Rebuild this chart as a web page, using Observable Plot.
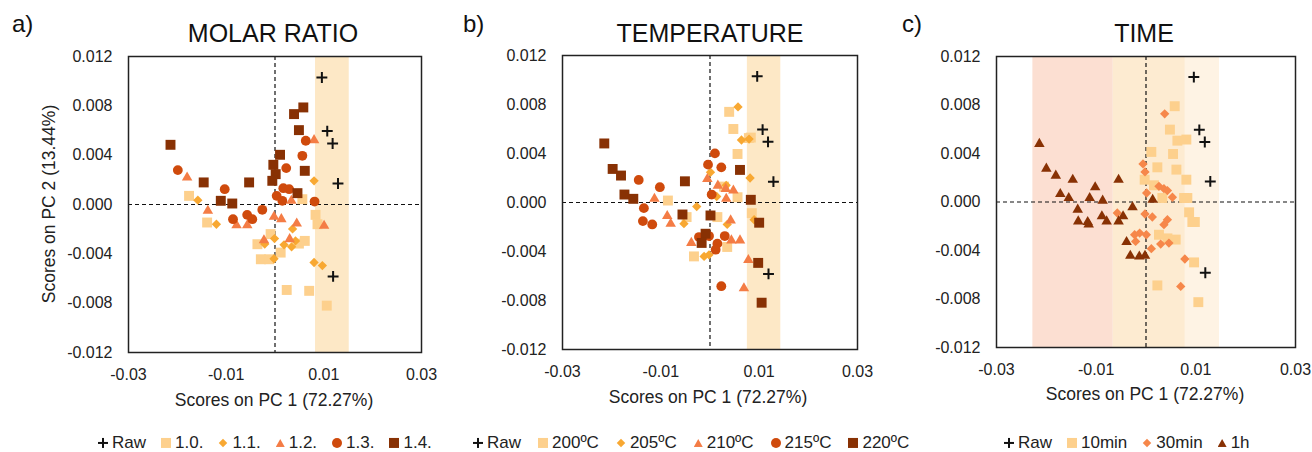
<!DOCTYPE html>
<html>
<head>
<meta charset="utf-8">
<script src="https://cdn.jsdelivr.net/npm/d3@7"></script>
<script src="https://cdn.jsdelivr.net/npm/@observablehq/plot@0.6"></script>
<style>
  body { margin: 0; background: #fff; font-family: "Liberation Sans", Arial, sans-serif; color: #111; }
  #root { position: relative; width: 1312px; height: 452px; overflow: hidden; background: #fff; }
  .panel { position: absolute; top: 0; }
  .title { position: absolute; font-size: 25px; line-height: 1.2; transform: translate(-50%, -50%); white-space: nowrap; }
  .tag { position: absolute; font-size: 24px; line-height: 1.2; transform: translateY(-50%); }
  .xlab { position: absolute; font-size: 17.5px; line-height: 1.2; transform: translate(-50%, -50%); white-space: nowrap; color: #222; }
  .ylab { position: absolute; font-size: 17.5px; line-height: 1.2; transform: translate(-50%, -50%) rotate(-90deg); white-space: nowrap; color: #222; }
  .legend { position: absolute; display: flex; align-items: center; font-size: 17px; line-height: 1.3; transform: translateY(-50%); white-space: nowrap; color: #222; }
  .item { display: flex; align-items: center; margin-right: 15px; }
  .sw { display: inline-block; margin-right: 4px; flex: none; }
  .sw.plus { width: 10px; height: 10px; margin-right: 4px;
    background: linear-gradient(#111, #111) center / 10px 2px no-repeat, linear-gradient(#111, #111) center / 2px 10px no-repeat; }
  .sw.square { width: 10px; height: 10px; }
  .sw.diamond { width: 6px; height: 6px; transform: rotate(45deg); margin: 0 6px 0 2px; }
  .sw.triangle { width: 9px; height: 8px; clip-path: polygon(50% 0, 100% 100%, 0 100%); }
  .sw.circle { width: 10px; height: 10px; border-radius: 50%; }
</style>
</head>
<body>
<div id="root"></div>
<script>
// ---------- data (PC1, PC2 scores) ----------
const xTicks = [-0.03, -0.01, 0.01, 0.03];
const yTicks = [-0.012, -0.008, -0.004, 0, 0.004, 0.008, 0.012];

const raw = [[0.0096,0.0103],[0.0107,0.00595],[0.0118,0.00495],[0.0129,0.0017],[0.0119,-0.00583]];

// a) molar ratio
const molar10 = [[-0.0176,0.0007],[-0.0139,-0.00146],[-0.0036,-0.00322],[-0.0029,-0.00444],[-0.0012,-0.00444],[-0.0009,-0.0024],[0.00116,-0.0039],[0.0049,-0.00317],[0.0061,-0.00295],[0.0056,0.00043],[0.0083,-0.00084],[0.0087,-0.0016],[0.0024,-0.00693],[0.0070,-0.0070],[0.0106,-0.0082]];
const molar11 = [[-0.0158,0.00035],[-0.0120,-0.0016],[-0.0001,-0.00276],[-0.0002,-0.0044],[0.0036,-0.00198],[0.00185,-0.00327],[0.0034,-0.00343],[0.0042,-0.00295],[0.0080,0.00192],[0.0080,-0.0047],[0.0097,-0.00495],[-0.0021,-0.0032]];
const molar12 = [[-0.0180,0.00219],[-0.01375,-0.00051],[-0.00787,-0.00168],[-0.00568,-0.00168],[-0.00226,-0.0029],[-0.0002,-0.0010],[0.0013,-0.00119],[0.00445,-0.00154],[0.01005,-0.00173],[0.0030,-0.00281],[0.0080,0.00522],[0.00335,0.0003]];
const molar13 = [[-0.0199,0.00279],[-0.0103,0.00124],[-0.0086,-0.00119],[-0.0057,-0.00084],[-0.00465,-0.00119],[-0.0026,-0.00043],[0.0023,0.00295],[0.0056,0.00395],[0.0063,0.00517],[0.0017,0.00132],[0.0029,0.00124],[0.00034,0.0007],[0.0015,0.0003],[0.0081,0.00024]];
const molar14 = [[-0.0214,0.00484],[0.0039,0.00733],[0.0058,0.00787],[0.0049,0.00603],[0.00103,0.00403],[-0.00034,0.00322],[0.00014,0.00246],[-0.00055,0.00192],[0.0061,0.00273],[0.0046,0.00092],[-0.0146,0.00179],[-0.0053,0.00179],[-0.0111,0.0003],[-0.00875,0.00008]];

// b) temperature
const temp200 = [[0.0039,0.0074],[0.00475,0.0060],[0.0079,0.00526],[0.0083,0.0053],[0.0056,0.00396],[-0.00856,0.00016],[-0.00476,-0.00119],[0.0015,-0.00119],[0.00285,0.0013],[0.0056,0.00043],[0.0085,-0.00087],[-0.00326,-0.0044],[0.0035,-0.00363]];
const temp205 = [[0.0057,0.0078],[0.0064,0.0051],[0.00795,0.00518],[0.0001,0.00247],[0.00815,0.0020],[-0.0027,-0.00033],[0.00136,0.00049],[0.0035,-0.00179],[-0.0012,-0.0044],[-0.0002,-0.00427],[-0.0053,-0.00173],[0.00897,-0.00141],[0.0033,0.0014]];
const temp210 = [[-0.0113,0.0003],[-0.0087,-0.0011],[-0.0080,-0.00173],[-0.00054,0.00192],[0.0016,0.00138],[0.0032,0.00111],[0.00475,0.00098],[0.0033,0.0003],[-0.0038,-0.0033],[0.0042,-0.00146],[0.0061,-0.00309],[0.00435,-0.00309],[0.0078,-0.0047],[0.0069,-0.0070]];
const temp215 = [[-0.0145,0.00184],[-0.0102,0.00125],[-0.01345,-0.00046],[-0.01365,-0.00152],[-0.01175,-0.00179],[0.0010,0.00401],[-0.0004,0.00309],[0.0023,0.00287],[0.00034,0.00065],[-0.00224,-0.00282],[-0.0002,-0.00274],[0.0015,-0.00336],[0.00115,-0.00385],[0.0030,-0.00274],[0.0023,-0.00683]];
const temp220 = [[-0.0215,0.00482],[-0.0198,0.00274],[-0.0181,0.0022],[-0.0174,0.00065],[-0.0156,0.0003],[-0.0051,0.00173],[-0.0056,-0.00098],[0.0001,-0.00106],[0.0061,0.00266],[0.0083,0.00022],[0.0100,-0.00165],[-0.0009,-0.00255],[-0.0017,-0.0033],[0.0098,-0.00493],[0.0105,-0.00818]];

// c) time
const time10 = [[0.00576,0.0079],[0.0048,0.00597],[0.0063,0.00506],[0.0081,0.00515],[0.00107,0.00413],[0.00543,0.00396],[0.00228,0.00286],[0.0061,0.00267],[-0.00027,0.00184],[0.0081,0.00184],[0.00328,0.00033],[0.00764,0.00033],[0.0083,0.00033],[0.00865,-0.00085],[0.0093,-0.00165],[0.0098,-0.00165],[0.0026,-0.0027],[0.0043,-0.0030],[0.00596,-0.0031],[0.00965,-0.00498],[0.00228,-0.00688],[0.0105,-0.00826],[0.0016,0.00138]];
const time30 = [[0.00375,0.00727],[-0.0006,0.00314],[-0.0002,0.00248],[0.00013,0.00074],[0.0026,0.00129],[0.0036,0.0011],[0.0043,0.00094],[0.0053,0.00039],[-0.0002,-0.00099],[0.00127,-0.00124],[0.0043,-0.00146],[0.0036,-0.00187],[-0.00576,-0.00091],[-0.00228,-0.0027],[-0.00127,-0.00256],[0.00007,-0.0027],[-0.00208,-0.00325],[0.00295,-0.00347],[0.0046,-0.00339],[0.00107,-0.00385],[0.0078,-0.0047],[0.00697,-0.00696]];
const time1h = [[-0.0214,0.00479],[-0.0200,0.00275],[-0.0181,0.00217],[-0.0147,0.00184],[-0.0172,0.00066],[-0.0155,0.00033],[-0.0137,-0.00063],[-0.0136,-0.0016],[-0.0117,-0.00165],[-0.0115,-0.00185],[-0.0102,0.00121],[-0.0113,0.00033],[-0.0087,0.00011],[-0.00885,-0.00118],[-0.0079,-0.0016],[-0.0055,0.00184],[-0.0055,-0.0016],[-0.0046,-0.00118],[-0.0027,-0.00044],[-0.0039,-0.0033],[-0.00315,-0.00443],[-0.00134,-0.00449],[-0.0002,-0.00443],[0.00134,0.00019]];

// shaded PC1 ranges [x1, x2, colour]
const bandsA = [[0.0083, 0.0152, "#FDE8C6"]];
const bandsB = [[0.0076, 0.0144, "#FDE8C6"]];
const bandsC = [[-0.0227, -0.00657, "#FCDFD2"], [-0.00657, 0.0079, "#FDEBD1"], [0.0079, 0.01475, "#FEF3E4"]];

// series styles
const C_LIGHT = "#FDD08D", C_DIAM = "#F8A832", C_TRI = "#F47C45", C_CIRC = "#CF4A0C", C_DARK = "#883104", C_T30 = "#F6874A";

const panels = [
  { left: 0, width: 437, ml: 128, mr: 16, mt: 56, mb: 48, bands: bandsA,
    title: "MOLAR RATIO", tag: "a)", tagX: 12, titleX: 273, xlabX: 274, xlabY: 400, legendX: 98, gap: 15,
    series: [
      { name: "Raw", data: raw, symbol: "plus" },
      { name: "1.0.", data: molar10, symbol: "square", color: C_LIGHT },
      { name: "1.1.", data: molar11, symbol: "diamond", color: C_DIAM },
      { name: "1.2.", data: molar12, symbol: "triangle", color: C_TRI },
      { name: "1.3.", data: molar13, symbol: "circle", color: C_CIRC },
      { name: "1.4.", data: molar14, symbol: "square", color: C_DARK }
    ] },
  { left: 437, width: 437, ml: 125, mr: 17, mt: 55, mb: 51, bands: bandsB,
    title: "TEMPERATURE", tag: "b)", tagX: 463, titleX: 710, xlabX: 708, xlabY: 397, legendX: 473, gap: 17,
    series: [
      { name: "Raw", data: raw, symbol: "plus" },
      { name: "200ºC", data: temp200, symbol: "square", color: C_LIGHT },
      { name: "205ºC", data: temp205, symbol: "diamond", color: C_DIAM },
      { name: "210ºC", data: temp210, symbol: "triangle", color: C_TRI },
      { name: "215ºC", data: temp215, symbol: "circle", color: C_CIRC },
      { name: "220ºC", data: temp220, symbol: "square", color: C_DARK }
    ] },
  { left: 874, width: 438, ml: 122, mr: 17, mt: 56, mb: 53, bands: bandsC,
    title: "TIME", tag: "c)", tagX: 902, titleX: 1144, xlabX: 1145, xlabY: 394, legendX: 1004, gap: 15,
    series: [
      { name: "Raw", data: raw, symbol: "plus" },
      { name: "10min", data: time10, symbol: "square", color: C_LIGHT },
      { name: "30min", data: time30, symbol: "diamond", color: C_T30 },
      { name: "1h", data: time1h, symbol: "triangle", color: C_DARK }
    ] }
];

const symbolSpec = {
  plus: { symbol: "plus", r: 3.6 },
  square: { symbol: "square", r: 5.6 },
  diamond: { symbol: "diamond2", r: 4.2 },
  triangle: { symbol: "triangle", r: 3.9 },
  circle: { symbol: "circle", r: 4.9 }
};

const root = document.getElementById("root");

function seriesMark(s) {
  const spec = symbolSpec[s.symbol];
  if (s.symbol === "plus") {
    return Plot.dot(s.data, { x: d => d[0], y: d => d[1], symbol: spec.symbol, r: spec.r, stroke: "#111", strokeWidth: 2, fill: "none" });
  }
  if (s.symbol === "circle") {
    return Plot.dot(s.data, { x: d => d[0], y: d => d[1], r: spec.r, fill: s.color, stroke: "none" });
  }
  return Plot.dot(s.data, { x: d => d[0], y: d => d[1], symbol: spec.symbol, r: spec.r, fill: s.color, stroke: "none" });
}

panels.forEach(p => {
  const chart = Plot.plot({
    width: p.width,
    height: 400,
    marginLeft: p.ml, marginRight: p.mr, marginTop: p.mt, marginBottom: p.mb,
    style: { fontFamily: '"Liberation Sans", Arial, sans-serif', fontSize: "16px", color: "#222", background: "transparent", overflow: "visible" },
    x: { domain: [-0.03, 0.03], ticks: xTicks, tickFormat: d => String(d), tickSize: 0, tickPadding: 16, label: null },
    y: { domain: [-0.012, 0.012], ticks: yTicks, tickFormat: d => d.toFixed(3), tickSize: 0, tickPadding: 16, label: null },
    marks: [
      Plot.rect(p.bands, { x1: d => d[0], x2: d => d[1], fill: d => d[2] }),
      Plot.ruleX([0], { stroke: "#111", strokeWidth: 1.2, strokeDasharray: "4,3" }),
      Plot.ruleY([0], { stroke: "#111", strokeWidth: 1.2, strokeDasharray: "4,3" }),
      ...p.series.map(seriesMark),
      Plot.frame({ stroke: "#222", strokeWidth: 1.5 })
    ]
  });
  const holder = document.createElement("div");
  holder.className = "panel";
  holder.style.left = p.left + "px";
  holder.appendChild(chart);
  root.appendChild(holder);

  const t = document.createElement("div");
  t.className = "title"; t.textContent = p.title;
  t.style.left = p.titleX + "px"; t.style.top = "33px";
  root.appendChild(t);

  const tg = document.createElement("div");
  tg.className = "tag"; tg.textContent = p.tag;
  tg.style.left = p.tagX + "px"; tg.style.top = "24px";
  root.appendChild(tg);

  const xl = document.createElement("div");
  xl.className = "xlab"; xl.textContent = "Scores on PC 1 (72.27%)";
  xl.style.left = p.xlabX + "px"; xl.style.top = p.xlabY + "px";
  root.appendChild(xl);

  const lg = document.createElement("div");
  lg.className = "legend";
  lg.style.left = p.legendX + "px"; lg.style.top = "443px";
  p.series.forEach(s => {
    const it = document.createElement("span");
    it.className = "item";
    it.style.marginRight = p.gap + "px";
    const sw = document.createElement("span");
    sw.className = "sw " + s.symbol;
    if (s.symbol !== "plus") sw.style.background = s.color;
    const tx = document.createElement("span");
    tx.textContent = s.name;
    it.appendChild(sw); it.appendChild(tx);
    lg.appendChild(it);
  });
  root.appendChild(lg);
});

const yl = document.createElement("div");
yl.className = "ylab"; yl.textContent = "Scores on PC 2 (13.44%)";
yl.style.left = "49px"; yl.style.top = "204px";
root.appendChild(yl);
</script>
</body>
</html>
